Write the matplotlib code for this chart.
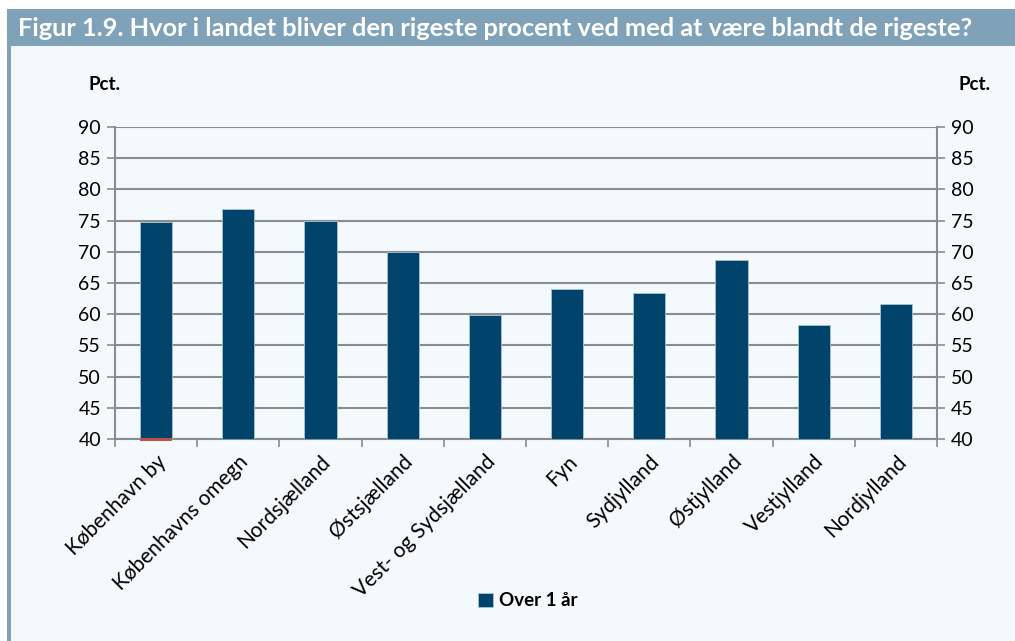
import numpy as np
import matplotlib.pyplot as plt
from matplotlib.patches import Rectangle

plt.rcParams['font.family'] = ['Lato', 'DejaVu Sans']

regions = ['København by', 'Københavns omegn', 'Nordsjælland', 'Østsjælland',
           'Vest- og Sydsjælland', 'Fyn', 'Sydjylland', 'Østjylland',
           'Vestjylland', 'Nordjylland']
over_1_aar = [74.7, 76.9, 75.0, 69.9, 59.9, 64.0, 63.4, 68.7, 58.3, 61.7]
# tiny second series only visible at the base of the first bar
other = [0.4, 0, 0, 0, 0, 0, 0, 0, 0, 0]

bg = '#f4f9fe'
band = '#7fa2b8'
bar_col = '#00446c'
grid_col = '#8c8c8c'

fig = plt.figure(figsize=(10.15, 6.41), dpi=100)
fig.patch.set_facecolor('white')

# panel background, title band and left strip
fig.add_artist(Rectangle((11 / 1015, 0), 1, 1 - 46 / 641, transform=fig.transFigure,
                         facecolor=bg, edgecolor='none', zorder=0))
fig.add_artist(Rectangle((7 / 1015, 1 - 46 / 641), 1, 37 / 641, transform=fig.transFigure,
                         facecolor=band, edgecolor='none', zorder=0))
fig.add_artist(Rectangle((7 / 1015, 0), 4 / 1015, 1 - 46 / 641, transform=fig.transFigure,
                         facecolor=band, edgecolor='none', zorder=0))
fig.text(18 / 1015, 1 - 28 / 641, 'Figur 1.9. Hvor i landet bliver den rigeste procent ved med at være blandt de rigeste?',
         color='white', fontsize=18.3, fontweight='bold', va='center', ha='left')

ax = fig.add_axes([115 / 1015, 1 - 439 / 641, 822 / 1015, 312 / 641])
ax.set_facecolor('none')
x = np.arange(len(regions))
ax.bar(x, np.array(over_1_aar) - 40, bottom=40, width=0.39, color=bar_col,
       edgecolor='#a9c3d6', linewidth=0.6, zorder=3, label='Over 1 år')
ax.bar(x, other, bottom=39.75, width=0.39, color='#c0504d', zorder=4, clip_on=False)

ax.set_ylim(40, 90)
ax.set_xlim(-0.5, len(regions) - 0.5)
ax.set_yticks(np.arange(40, 91, 5))
ax.yaxis.grid(True, color=grid_col, linewidth=1.5, zorder=1)
ax.tick_params(axis='y', which='both', left=True, right=True, labelleft=True,
               labelright=True, length=6, width=1.2, color=grid_col,
               labelsize=14, pad=4)
ax.set_xticks(x)
ax.set_xticklabels(regions, rotation=45, ha='right', rotation_mode='anchor', fontsize=15)
ax.tick_params(axis='x', length=0, pad=9)
ax.set_xticks(np.arange(-0.5, len(regions)), minor=True)
ax.tick_params(axis='x', which='minor', length=6, width=1.2, color=grid_col)
for s in ['top']:
    ax.spines[s].set_visible(False)
for s in ['left', 'right', 'bottom']:
    ax.spines[s].set_color(grid_col)
    ax.spines[s].set_linewidth(1.5)

fig.text(105 / 1015, 1 - 85 / 641, 'Pct.', fontsize=13.5, fontweight='bold', ha='center', va='center')
fig.text(974 / 1015, 1 - 85 / 641, 'Pct.', fontsize=13.5, fontweight='bold', ha='center', va='center')

h, l = ax.get_legend_handles_labels()
leg = fig.legend(h[:1], l[:1], loc='center', bbox_to_anchor=(528 / 1015, 1 - 601 / 641),
                 frameon=False, handlelength=0.8, handleheight=0.8, handletextpad=0.3,
                 prop={'size': 13.5, 'weight': 'bold'})

fig.savefig('out.png', dpi=100, facecolor=fig.get_facecolor())
